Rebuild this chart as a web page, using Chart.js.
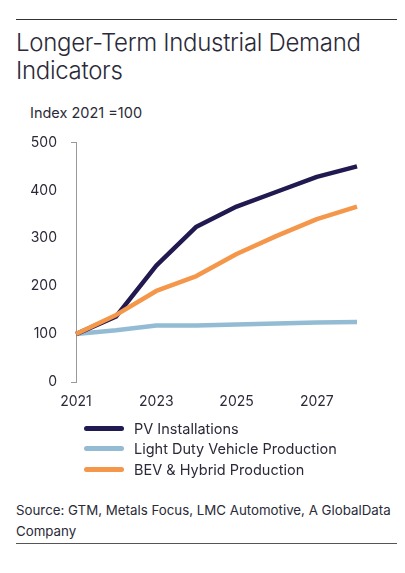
<!DOCTYPE html>
<html>
<head>
<meta charset="utf-8">
<script src="https://cdn.jsdelivr.net/npm/chart.js@4/dist/chart.umd.min.js"></script>
<style>
  html, body { margin: 0; padding: 0; background: #fff; }
  body { width: 405px; height: 573px; position: relative; overflow: hidden; font-family: Inter, Roboto, sans-serif; color: #2b2a38; }
  .rule { position: absolute; left: 16px; width: 381px; height: 1px; background: #333; }
  #title { position: absolute; left: 16px; top: 29px; font-size: 24px; font-weight: 300; line-height: 28px; color: #2b2a38; letter-spacing: -0.3px; }
  #ylabel { position: absolute; left: 30px; top: 104px; font-size: 14.5px; color: #2b2a38; }
  #chartwrap { position: absolute; left: 0; top: 120px; width: 405px; height: 300px; }
  #legend { position: absolute; left: 84px; top: 418px; font-size: 14.5px; }
  .li { height: 20.5px; display: flex; align-items: center; }
  .sw { width: 40px; height: 5px; border-radius: 2.5px; margin-right: 10px; }
  #source { position: absolute; left: 16px; top: 500px; font-size: 13.3px; line-height: 21px; color: #2b2a38; width: 385px; }
</style>
</head>
<body>
<div class="rule" style="top:19px"></div>
<div id="title">Longer-Term Industrial Demand<br>Indicators</div>
<div id="ylabel">Index 2021 =100</div>
<div id="chartwrap"><canvas id="c"></canvas></div>
<div id="legend"></div>
<div id="source">Source: GTM, Metals Focus, LMC Automotive, A GlobalData Company</div>
<div class="rule" style="top:543px; background:#555"></div>
<script>
const years = ["2021", "2022", "2023", "2024", "2025", "2026", "2027", "2028"];
const pvInstallations = [100, 137, 243, 324, 366, 397, 428, 450];
const lightDutyVehicle = [100, 108, 118, 118, 120, 122, 124, 125];
const bevHybrid = [100, 140, 190, 221, 267, 305, 340, 366];
const yTicks = [0, 100, 200, 300, 400, 500];
const seriesNames = ["PV Installations", "Light Duty Vehicle Production", "BEV & Hybrid Production"];
const seriesColors = ["#201a50", "#93bcd4", "#f5974a"];

const datasets = [
  { label: seriesNames[0], data: pvInstallations, borderColor: seriesColors[0] },
  { label: seriesNames[1], data: lightDutyVehicle, borderColor: seriesColors[1] },
  { label: seriesNames[2], data: bevHybrid, borderColor: seriesColors[2] }
].map(d => Object.assign(d, { borderWidth: 4.5, pointRadius: 0, tension: 0, fill: false, borderCapStyle: 'butt', borderJoinStyle: 'round' }));
datasets[0].order = 2; datasets[1].order = 3; datasets[2].order = 1;

const txt = "#2b2a38";
const tickFont = { family: 'Inter', size: 14 };
new Chart(document.getElementById('c'), {
  type: 'line',
  data: { labels: years, datasets },
  options: {
    responsive: true,
    maintainAspectRatio: false,
    animation: false,
    layout: { padding: { top: 10, right: 48, left: 0, bottom: 0 } },
    plugins: { legend: { display: false }, tooltip: { enabled: false } },
    scales: {
      x: {
        type: 'category',
        offset: false,
        grid: { display: false, drawTicks: false },
        border: { display: false },
        ticks: {
          autoSkip: false, maxRotation: 0, padding: 11,
          color: txt, font: tickFont,
          callback: function(v, i) { return i % 2 === 0 ? years[i] : ''; }
        },
        afterFit: s => { s.height = 38; }
      },
      y: {
        min: 0, max: 500,
        afterBuildTicks: s => { s.ticks = yTicks.map(v => ({ value: v })); },
        grid: {
          drawOnChartArea: false, drawTicks: true, tickLength: 5,
          color: ctx => (ctx.tick && (ctx.tick.value === 0 || ctx.tick.value === 500)) ? '#999' : 'rgba(0,0,0,0)'
        },
        border: { display: true, color: '#999', width: 1 },
        ticks: { padding: 14, color: txt, font: tickFont },
        afterFit: s => { s.width = 76; }
      }
    }
  }
});

const leg = document.getElementById('legend');
seriesNames.forEach((n, i) => {
  const row = document.createElement('div'); row.className = 'li';
  const sw = document.createElement('div'); sw.className = 'sw'; sw.style.background = seriesColors[i];
  const t = document.createElement('span'); t.textContent = n;
  row.appendChild(sw); row.appendChild(t); leg.appendChild(row);
});
</script>
</body>
</html>
